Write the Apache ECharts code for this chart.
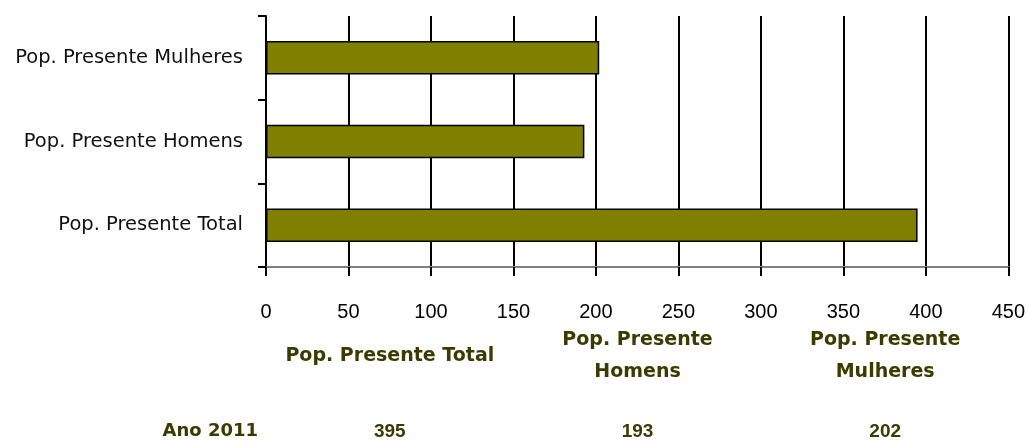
<!DOCTYPE html>
<html>
<head>
<meta charset="utf-8">
<style>
  html, body { margin: 0; padding: 0; background: #ffffff; }
  #chart { width: 1028px; height: 442px; }
</style>
<script src="https://cdn.jsdelivr.net/npm/echarts@6/dist/echarts.min.js"></script>
</head>
<body>
<div id="chart"></div>
<script>
// ---- data ----
const categories = ['Pop. Presente Total', 'Pop. Presente Homens', 'Pop. Presente Mulheres'];
const values = [395, 193, 202];
const tableHeaders = ['Pop. Presente Total', 'Pop. Presente\nHomens', 'Pop. Presente\nMulheres'];
const tableRowLabel = 'Ano 2011';
const xTicks = { min: 0, max: 450, interval: 50 };

// ---- chart ----
const FONT = 'DejaVu Sans';
const NUM_FONT = 'Liberation Sans';
const TABLE_COLOR = '#3b3b00';
const chart = echarts.init(document.getElementById('chart'), null, { renderer: 'canvas' });

const option = {
  backgroundColor: '#ffffff',
  animation: false,
  grid: [
    { left: 266, top: 16, width: 743, height: 251, containLabel: false },
    { left: 266, top: 421, width: 743, height: 21, containLabel: false }
  ],
  xAxis: [
    {
      gridIndex: 0,
      type: 'value',
      min: xTicks.min,
      max: xTicks.max,
      interval: xTicks.interval,
      axisLine: { show: true, lineStyle: { color: '#808080', width: 2 } },
      axisTick: { show: true, length: 9, lineStyle: { color: '#000', width: 2 } },
      splitLine: { show: true, lineStyle: { color: '#000', width: 2 } },
      axisLabel: { color: '#000', fontFamily: NUM_FONT, fontSize: 20, margin: 35 }
    },
    {
      gridIndex: 1,
      type: 'category',
      position: 'top',
      data: tableHeaders,
      axisLine: { show: false },
      axisTick: { show: false },
      splitLine: { show: false },
      axisLabel: {
        color: TABLE_COLOR, fontFamily: FONT, fontSize: 19, fontWeight: 'bold',
        lineHeight: 32, margin: 65, verticalAlign: 'middle', align: 'center', interval: 0
      }
    }
  ],
  yAxis: [
    {
      gridIndex: 0,
      type: 'category',
      data: categories,
      axisLine: { show: true, lineStyle: { color: '#000', width: 2 } },
      axisTick: { show: true, length: 8, alignWithLabel: false, lineStyle: { color: '#000', width: 2 } },
      splitLine: { show: false },
      axisLabel: { color: '#111', fontFamily: FONT, fontSize: 19.5, margin: 23 }
    },
    {
      gridIndex: 1,
      type: 'category',
      data: [tableRowLabel],
      axisLine: { show: false },
      axisTick: { show: false },
      splitLine: { show: false },
      axisLabel: { color: TABLE_COLOR, fontFamily: FONT, fontSize: 18, fontWeight: 'bold', margin: 8 }
    }
  ],
  series: [
    {
      type: 'bar',
      xAxisIndex: 0,
      yAxisIndex: 0,
      data: values,
      barCategoryGap: '60%',
      itemStyle: { color: '#808000', borderColor: '#000', borderWidth: 1.5 },
      silent: true
    },
    {
      type: 'scatter',
      xAxisIndex: 1,
      yAxisIndex: 1,
      symbolSize: 4,
      itemStyle: { color: 'rgba(0,0,0,0)', opacity: 1 },
      data: values.map((v, i) => [tableHeaders[i], tableRowLabel, v]),
      label: {
        show: true,
        position: 'inside',
        formatter: p => String(p.data[2]),
        color: TABLE_COLOR, fontFamily: NUM_FONT, fontSize: 19, fontWeight: 'bold'
      },
      silent: true
    }
  ]
};
chart.setOption(option);
</script>
</body>
</html>
